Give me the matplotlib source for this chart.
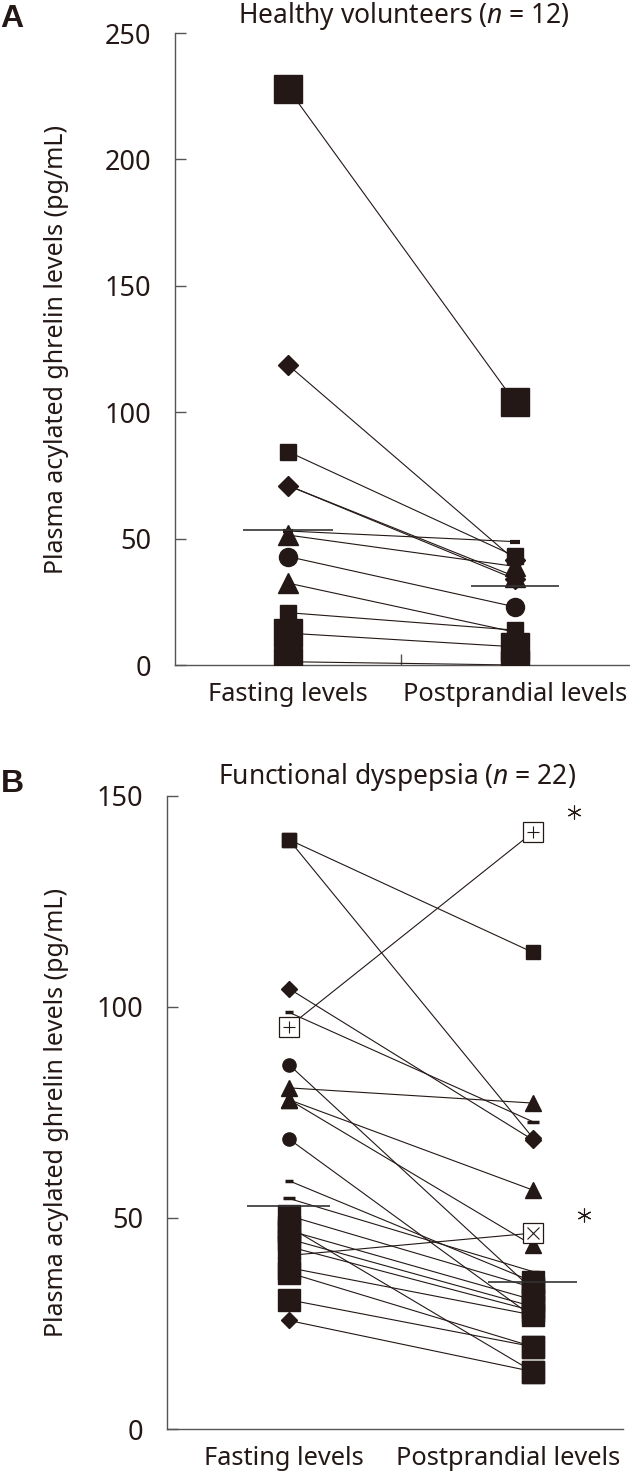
import matplotlib
matplotlib.use('Agg')
import matplotlib.pyplot as plt

plt.rcParams['font.family'] = ['Noto Sans', 'DejaVu Sans']
plt.rcParams['mathtext.fontset'] = 'custom'
plt.rcParams['mathtext.it'] = 'Noto Sans:italic'
plt.rcParams['mathtext.rm'] = 'Noto Sans'

INK = '#231815'
AXC = '#555555'

categories = ['Fasting levels', 'Postprandial levels']
ylabel = 'Plasma acylated ghrelin levels (pg/mL)'

# ---------------- Panel A: healthy volunteers ----------------
a_title = 'Healthy volunteers ($\\mathit{n}$ = 12)'
a_fasting = [228, 118.7, 84.4, 71, 71, 53, 51.4, 42.9, 32.4, 20.7, 12.6, 1.3]
a_post = [104, 41.5, 43, 34, 35, 48.8, 39, 23, 13, 13.8, 7.2, 0]
a_fast_mk = ['bigsq', 'D', 's', 'D', 'dash', 'dash', '^', 'o', '^', 's', 'bigsq', 'bigsq']
a_post_mk = ['bigsq', 'D', 's', 'D', '^', 'dash', '^', 'o', '^', 's', 'bigsq', 'bigsq']
a_median = [53.4, 31.3]
a_yticks = [0, 50, 100, 150, 200, 250]

# ---------------- Panel B: functional dyspepsia ----------------
b_title = 'Functional dyspepsia ($\\mathit{n}$ = 22)'
b_fasting = [139.6, 139.6, 104.3, 98.7, 95.3, 86.3, 80.8, 78, 78, 68.7, 58.8,
             54.6, 41.1, 30.6, 25.7, 50.5, 47.9, 47, 45, 43.2, 38.2, 37]
b_post = [112.9, 69, 68.5, 72.8, 141.3, 33, 77.2, 56.6, 43.5, 26.6, 34.9,
          37.3, 46.4, 19.5, 13.6, 33.5, 13.6, 30.6, 29, 28, 27, 19.5]
b_fast_mk = ['s', 's', 'D', 'dash_s', 'box+', 'o', '^', '^', '^', 'o', 'dash_s',
             'dash', 'boxx', 'bigsq', 'D', 'bigsq', 'bigsq', 'bigsq', 'bigsq', 'bigsq', 'bigsq', 'bigsq']
b_post_mk = ['s', 'D', 'D', 'dash', 'box+', 'bigsq', '^', '^', '^', 'o', 'bigsq',
             'dash', 'boxx', 'bigsq', 'bigsq', 'bigsq', 'bigsq', 'bigsq', 'bigsq', 'bigsq', 'bigsq', 'bigsq']
b_median = [52.8, 34.9]
b_yticks = [0, 50, 100, 150]
b_sig_x = [2.168, 2.209]
b_sig_y = [146.2, 50.7]

STYLE_A = {
    'bigsq': dict(marker='s', ms=19.5),
    's': dict(marker='s', ms=11.5),
    'D': dict(marker='D', ms=10),
    'o': dict(marker='o', ms=13),
    '^': dict(marker='^', ms=14),
    'dash': dict(marker='_', ms=7, mew=3),
}
STYLE_B = {
    'bigsq': dict(marker='s', ms=16),
    's': dict(marker='s', ms=10),
    'D': dict(marker='D', ms=8),
    'o': dict(marker='o', ms=9.5),
    '^': dict(marker='^', ms=12),
    'dash': dict(marker='_', ms=9, mew=2.5),
    'dash_s': dict(marker='_', ms=5.5, mew=2.5),
    'box+': dict(marker='s', ms=15, mfc='white', mew=0.9, inner='+'),
    'boxx': dict(marker='s', ms=15, mfc='white', mew=0.9, inner='x'),
}

fig = plt.figure(figsize=(6.3, 14.76), dpi=100)
W, H = 630.0, 1476.0


def draw_mark(ax, x, y, key, styles):
    st = dict(styles[key])
    inner = st.pop('inner', None)
    kw = dict(color=INK, mfc=st.pop('mfc', INK), mec=INK, ls='none', zorder=4)
    kw.update(st)
    ax.plot([x], [y], **kw)
    if inner is not None:
        ax.plot([x], [y], marker=inner, ms=8.5, mew=0.8, color=INK, ls='none', zorder=5)


def setup_axes(ax, xlim, ylim, yticks, label_x, mid_tick):
    ax.set_xlim(*xlim)
    ax.set_ylim(*ylim)
    for s in ['top', 'right']:
        ax.spines[s].set_visible(False)
    for s in ['left', 'bottom']:
        ax.spines[s].set_color(AXC)
        ax.spines[s].set_linewidth(1.0)
    ax.set_yticks(yticks)
    ax.tick_params(axis='y', direction='in', length=8, width=1, color=AXC,
                   labelsize=19.5, pad=17, labelcolor=INK)
    ax.set_xticks(label_x, categories)
    ax.tick_params(axis='x', which='major', length=0, labelsize=18.3, pad=12, labelcolor=INK)
    if mid_tick:
        ax.set_xticks([1.5], minor=True)
        ax.tick_params(axis='x', which='minor', direction='in', length=8, width=1, color=AXC)
    ax.set_ylabel(ylabel, fontsize=18, color=INK)


def draw_panel(ax, fast, post, fmk, pmk, styles, med, med_w):
    for f, p in zip(fast, post):
        ax.plot([1, 2], [f, p], color=INK, lw=0.8, zorder=2)
    for f, k in zip(fast, fmk):
        draw_mark(ax, 1, f, k, styles)
    for p, k in zip(post, pmk):
        draw_mark(ax, 2, p, k, styles)
    ax.hlines(med[0], 1 - med_w[0] / 2, 1 + med_w[0] / 2, color='#333333', lw=1.2, zorder=6)
    ax.hlines(med[1], 2 - med_w[1] / 2, 2 + med_w[1] / 2, color='#333333', lw=1.2, zorder=6)


# Panel A
axA = fig.add_axes([175 / W, 1 - 665 / H, 455 / W, 632 / H])
setup_axes(axA, (0.502, 2.507), (0, 250), a_yticks, [1, 2], True)
draw_panel(axA, a_fasting, a_post, a_fast_mk, a_post_mk, STYLE_A, a_median, [0.40, 0.39])
axA.yaxis.set_label_coords(-106 / 455, 0.5)
fig.text(404 / W, 1 - 16 / H, a_title, ha='center', va='center', fontsize=19, color=INK)
fig.text(0 / W, 1 - 19 / H, 'A', ha='left', va='center', fontsize=23, fontweight='bold',
         family=['Liberation Sans', 'DejaVu Sans'], color=INK)

# Panel B
axB = fig.add_axes([167 / W, 1 - 1429 / H, 456 / W, 633.3 / H])
setup_axes(axB, (0.5, 2.37), (0, 150), b_yticks, [0.98, 1.9], False)
draw_panel(axB, b_fasting, b_post, b_fast_mk, b_post_mk, STYLE_B, b_median, [0.34, 0.365])
axB.plot(b_sig_x, b_sig_y, ls='none', marker=(6, 2, 0), ms=10, mew=0.8, color=INK,
         clip_on=False, zorder=5)
axB.yaxis.set_label_coords(-98 / 456, 0.5)
fig.text(397 / W, 1 - 777 / H, b_title, ha='center', va='center', fontsize=19, color=INK)
fig.text(1 / W, 1 - 784 / H, 'B', ha='left', va='center', fontsize=23, fontweight='bold',
         family=['Liberation Sans', 'DejaVu Sans'], color=INK)

fig.savefig('out.png', dpi=100)
